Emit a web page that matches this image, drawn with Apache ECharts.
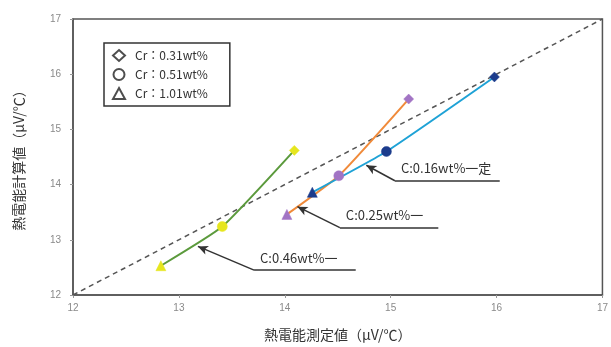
<!DOCTYPE html>
<html><head><meta charset="utf-8">
<script src="https://cdn.jsdelivr.net/npm/echarts@6/dist/echarts.min.js"></script>
<style>html,body{margin:0;padding:0;background:#fff}#c{width:611px;height:347px}</style>
</head><body><div id="c"></div>
<script>
// Cr levels (marker shapes)
const crLabels = ['Cr：0.31wt%', 'Cr：0.51wt%', 'Cr：1.01wt%'];
const crSymbols = ['diamond', 'circle', 'triangle'];
// C series, points ordered by Cr level [0.31, 0.51, 1.01]
const seriesNames = ['C:0.46wt%', 'C:0.25wt%', 'C:0.16wt%'];
const c046X = [14.09, 13.41, 12.83];
const c046Y = [14.62, 13.24, 12.53];
const c025X = [15.17, 14.51, 14.02];
const c025Y = [15.55, 14.16, 13.46];
const c016X = [15.98, 14.96, 14.26];
const c016Y = [15.95, 14.60, 13.86];
// identity line
const diagX = [12, 17];
const diagY = [12, 17];
// annotation labels and their leader points [tip, elbow, end]
const noteTexts = ['C:0.46wt%一', 'C:0.25wt%一', 'C:0.16wt%一定'];
const noteX = [[13.18, 13.71, 14.67], [14.12, 14.52, 15.45], [14.77, 15.04, 16.03]];
const noteY = [[12.88, 12.45, 12.45], [13.60, 13.22, 13.22], [14.35, 14.07, 14.07]];
// axis ticks
const axisMin = 12, axisMax = 17, axisStep = 1;

const lineColors = ['#5b9a3c', '#f08a3a', '#1ea2d6'];
const markerColors = ['#e6e61e', '#a274c4', '#1c3c8c'];
const allX = [c046X, c025X, c016X];
const allY = [c046Y, c025Y, c016Y];

const dataSeries = allX.map((xs, s) => ({
  type: 'line', name: seriesNames[s], smooth: 0.15,
  data: xs.map((x, i) => ({ value: [x, allY[s][i]], symbol: crSymbols[i] })).slice().reverse(),
  symbolSize: 10,
  lineStyle: { color: lineColors[s], width: 2 },
  itemStyle: { color: markerColors[s], borderColor: markerColors[s], borderWidth: 0.5 },
  z: 3, silent: true
}));

const markData = [];
noteX.forEach((xs, k) => {
  const ys = noteY[k];
  markData.push([
    { coord: [xs[0], ys[0]], symbol: 'arrow', symbolSize: [7, 10] },
    { coord: [xs[1], ys[1]], symbol: 'none' }
  ]);
  markData.push([
    { coord: [xs[1], ys[1]], symbol: 'none',
      label: { show: true, position: 'insideStartTop', formatter: noteTexts[k], distance: [6, 6] } },
    { coord: [xs[2], ys[2]], symbol: 'none' }
  ]);
});

const legendSeries = crLabels.map((n, i) => ({
  type: 'scatter', name: n, data: [], symbol: crSymbols[i],
  itemStyle: { color: '#fff', borderColor: '#222', borderWidth: 1.5 }
}));

const chart = echarts.init(document.getElementById('c'), null, { renderer: 'canvas' });
chart.setOption({
  animation: false,
  backgroundColor: '#fff',
  textStyle: { fontFamily: '"Noto Sans CJK JP", "Noto Sans", sans-serif' },
  grid: { left: 73, right: 6, top: 19, bottom: 49, show: true, borderColor: '#555', borderWidth: 1.5 },
  legend: {
    orient: 'vertical', left: 104, top: 43, data: crLabels,
    borderColor: '#333', borderWidth: 1.5, padding: [6, 22, 6, 8],
    itemWidth: 12, itemHeight: 11, itemGap: 6,
    textStyle: { fontSize: 12, color: '#333', padding: [0, 0, 0, 5], fontFamily: '"Noto Sans CJK JP", sans-serif' }
  },
  xAxis: {
    type: 'value', min: axisMin, max: axisMax, interval: axisStep,
    name: '熱電能測定値（μV/℃）', nameLocation: 'middle', nameGap: 33,
    nameTextStyle: { fontSize: 14, color: '#333' },
    axisLine: { lineStyle: { color: '#555', width: 1.5 } },
    axisTick: { show: true, length: 3, lineStyle: { color: '#999' } },
    axisLabel: { color: '#8a8a8a', fontSize: 10, fontFamily: 'Liberation Sans, sans-serif', margin: 8 },
    splitLine: { show: false }
  },
  yAxis: {
    type: 'value', min: axisMin, max: axisMax, interval: axisStep,
    name: '熱電能計算値（μV/℃）', nameLocation: 'middle', nameGap: 47,
    nameTextStyle: { fontSize: 14, color: '#333' },
    axisLine: { show: true, lineStyle: { color: '#555', width: 1.5 } },
    axisTick: { show: true, length: 3, lineStyle: { color: '#999' } },
    axisLabel: { color: '#8a8a8a', fontSize: 10, fontFamily: 'Liberation Sans, sans-serif', margin: 12 },
    splitLine: { show: false }
  },
  series: [
    {
      type: 'line', name: 'diag', data: diagX.map((x, i) => [x, diagY[i]]),
      symbol: 'none', silent: true, z: 1,
      lineStyle: { color: '#555', width: 1.5, type: [5, 4] },
      markLine: {
        silent: true, animation: false, symbolSize: 8,
        lineStyle: { color: '#333', width: 1.5, type: 'solid' },
        label: { color: '#333', fontSize: 13, fontFamily: '"Noto Sans CJK JP", sans-serif' },
        emphasis: { disabled: true },
        data: markData
      }
    },
    ...dataSeries,
    ...legendSeries
  ]
});
</script></body></html>
